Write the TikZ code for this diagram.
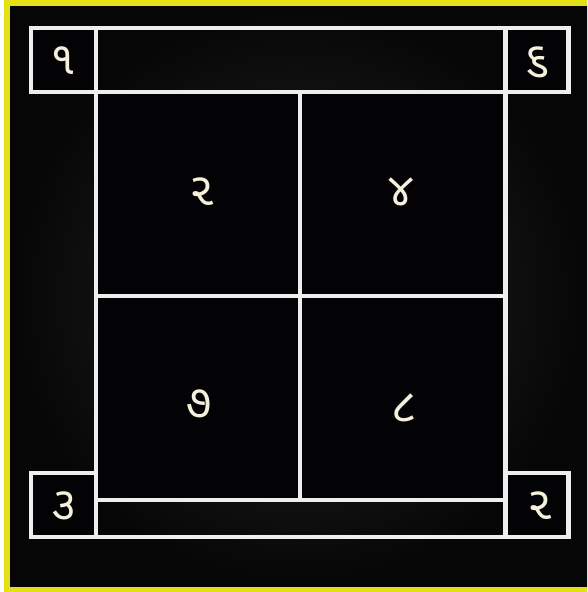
\documentclass[tikz,border=0pt]{standalone}
\usepackage{fontspec}
\newfontfamily\guj[Script=Gujarati]{Noto Sans Gujarati UI}
\definecolor{frameyellow}{RGB}{228,224,22}
\definecolor{linewhite}{RGB}{238,238,238}
\definecolor{digitcol}{RGB}{245,240,220}
\definecolor{bginner}{RGB}{40,40,40}
\definecolor{bgouter}{RGB}{6,6,6}
\definecolor{cellblack}{RGB}{3,3,6}
\tikzset{
  box/.style={draw=linewhite, line width=4.5pt, inner sep=0pt, anchor=center},
  cellbox/.style={box, fill=cellblack},
  barbox/.style={box},
  digit/.style={text=digitcol, font=\guj\fontsize{46}{46}\selectfont, inner sep=0pt, anchor=center}
}
\begin{document}
\begin{tikzpicture}[x=1pt,y=-1pt]
\useasboundingbox (0,0) rectangle (587,592);
\fill[white] (0,0) rectangle (587,592);
\fill[frameyellow] (4,0) rectangle (587,592);
\shade[inner color=bginner, outer color=bgouter] (10,6) rectangle (587,586);
% top row
\node[barbox, minimum width=409.5pt, minimum height=64pt] (topbar) at (300.75,60) {};
\node[cellbox, minimum width=65pt, minimum height=64pt] (c1) at (63.5,60) {};
\node[cellbox, minimum width=63pt, minimum height=64pt] (c6) at (537,60) {};
% grid cells
\node[cellbox, minimum width=204pt, minimum height=204pt] (tl) at (198,194) {};
\node[cellbox, minimum width=205.5pt, minimum height=204pt] (tr) at (402.75,194) {};
\node[cellbox, minimum width=204pt, minimum height=204pt] (bl) at (198,398) {};
\node[cellbox, minimum width=205.5pt, minimum height=204pt] (br) at (402.75,398) {};
% bottom row
\node[barbox, minimum width=409.5pt, minimum height=37pt] (botbar) at (300.75,518.5) {};
\node[cellbox, minimum width=65pt, minimum height=64pt] (c3) at (63.5,505) {};
\node[cellbox, minimum width=63pt, minimum height=64pt] (c2) at (537,505) {};
% digits
\node[digit] (d1) at (63,61) {૧};
\node[digit] (d6) at (537.5,62) {૬};
\node[digit] (d2a) at (202,192) {૨};
\node[digit] (d4) at (401,192) {૪};
\node[digit] (d7) at (199,404) {૭};
\node[digit] (d8) at (404,408) {૮};
\node[digit] (d3) at (64,506) {૩};
\node[digit] (d2b) at (540,506) {૨};
\end{tikzpicture}
\end{document}
